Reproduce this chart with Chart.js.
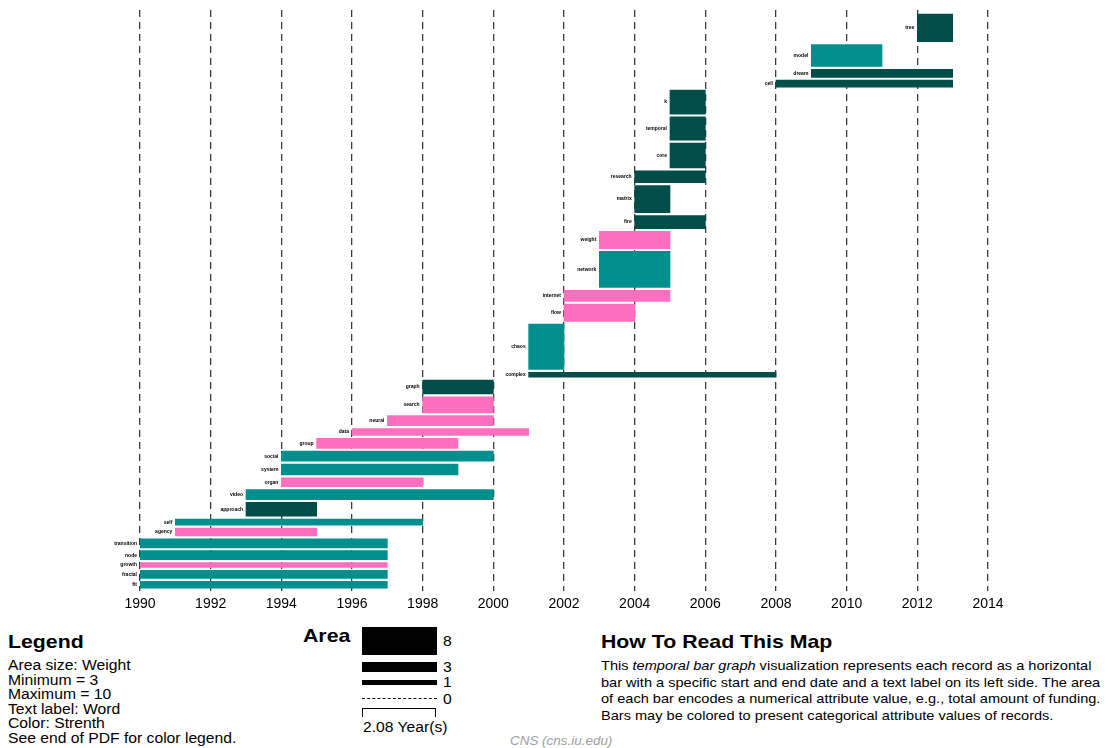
<!DOCTYPE html>
<html>
<head>
<meta charset="utf-8">
<script src="https://cdn.jsdelivr.net/npm/chart.js@4.4.0/dist/chart.umd.min.js"></script>
<style>
  body { margin: 0; background: #fff; font-family: Arial, "Liberation Sans", sans-serif; }
  #wrap { position: relative; width: 1108px; height: 748px; overflow: hidden; }
  #myChart { position: absolute; left: 0; top: 0; }
  .t { position: absolute; white-space: nowrap; transform: scaleX(1.12); transform-origin: 0 0; color: #000; }
  .h { font-weight: bold; font-size: 19px; line-height: 22px; }
  .box { position: absolute; background: #000; left: 362px; width: 75px; }
</style>
</head>
<body>
<div id="wrap">
  <canvas id="myChart" width="1108" height="623"></canvas>

  <div class="t h" style="left:8px;top:631px">Legend</div>
  <div class="t" style="left:8px;top:658px;font-size:14px;line-height:14.6px">
    Area size: Weight<br>Minimum = 3<br>Maximum = 10<br>Text label: Word<br>Color: Strenth<br>See end of PDF for color legend.
  </div>

  <div class="t h" style="left:303px;top:625px">Area</div>
  <div class="box" style="top:627px;height:28px"></div>
  <div class="box" style="top:662px;height:10px"></div>
  <div class="box" style="top:680px;height:5px"></div>
  <div style="position:absolute;left:362px;top:698px;width:75px;border-top:1.5px dashed #000"></div>
  <div style="position:absolute;left:362px;top:708px;width:72px;height:8px;border:1.5px solid #000;border-bottom:none"></div>
  <div class="t" style="left:443px;top:633px;font-size:14px;line-height:16px">8</div>
  <div class="t" style="left:443px;top:659px;font-size:14px;line-height:16px">3</div>
  <div class="t" style="left:443px;top:674px;font-size:14px;line-height:16px">1</div>
  <div class="t" style="left:443px;top:691px;font-size:14px;line-height:16px">0</div>
  <div class="t" style="left:363px;top:719px;font-size:14px;line-height:16px">2.08 Year(s)</div>

  <div class="t h" style="left:601px;top:631px">How To Read This Map</div>
  <div class="t" style="left:601px;top:658px;font-size:13px;line-height:16.5px">
    This <i>temporal bar graph</i> visualization represents each record as a horizontal<br>
    bar with a specific start and end date and a text label on its left side. The area<br>
    of each bar encodes a numerical attribute value, e.g., total amount of funding.<br>
    Bars may be colored to present categorical attribute values of records.
  </div>

  <div class="t" style="left:510px;top:734px;font-size:12px;line-height:14px;font-style:italic;color:#a0a0a0">CNS (cns.iu.edu)</div>
</div>

<script>
// records, listed from the top of the graph to the bottom
const words = ['tree', 'model', 'dream', 'cell', 'k', 'temporal', 'core', 'research', 'matrix', 'fire',
  'weight', 'network', 'internet', 'flow', 'chaos', 'complex', 'graph', 'search', 'neural', 'data',
  'group', 'social', 'system', 'organ', 'video', 'approach', 'self', 'agency', 'transition', 'node',
  'growth', 'fractal', 'fit']
const startYear = [2012, 2009, 2009, 2008, 2005, 2005, 2005, 2004, 2004, 2004,
  2003, 2003, 2002, 2002, 2001, 2001, 1998, 1998, 1997, 1996,
  1995, 1994, 1994, 1994, 1993, 1993, 1991, 1991, 1990, 1990,
  1990, 1990, 1990]
const endYear = [2013, 2011, 2013, 2013, 2006, 2006, 2006, 2006, 2005, 2006,
  2005, 2005, 2005, 2004, 2002, 2008, 2000, 2000, 2000, 2001,
  1999, 2000, 1999, 1998, 2000, 1995, 1998, 1995, 1997, 1997,
  1997, 1997, 1997]
const weight = [3.8, 6.0, 4.4, 4.8, 3.3, 3.2, 3.4, 3.3, 3.7, 3.6,
  4.7, 9.9, 4.5, 4.7, 6.2, 4.8, 3.8, 4.4, 4.1, 4.8,
  5.5, 8.2, 7.5, 4.9, 9.6, 3.8, 5.8, 4.4, 8.6, 8.6,
  4.8, 7.7, 6.7]
// 1 = weak, 2 = medium, 3 = strong
const strength = [3, 2, 3, 3, 3, 3, 3, 3, 3, 3,
  1, 2, 1, 1, 2, 3, 3, 1, 1, 1,
  1, 2, 2, 1, 2, 3, 2, 1, 2, 2,
  1, 2, 2]
const yearTicks = [1990, 1992, 1994, 1996, 1998, 2000, 2002, 2004, 2006, 2008, 2010, 2012, 2014]

const strengthColors = { 1: '#ff6fbf', 2: '#008f8c', 3: '#004d4a' }
const AREA_K = 7.3   // height units per (weight / year)
const GAP = 2.85

// bar height encodes weight / duration, bars are stacked top to bottom
const heights = words.map((w, i) => weight[i] / (endYear[i] - startYear[i]) * AREA_K)
const centers = []
let cum = 0
heights.forEach(h => { centers.push(cum + h / 2); cum += h + GAP })
const totalHeight = cum - GAP

const wordLabels = {
  id: 'wordLabels',
  afterDatasetsDraw(chart) {
    const ctx = chart.ctx
    ctx.save()
    ctx.font = 'bold 5px Arial'
    ctx.fillStyle = '#000'
    ctx.textAlign = 'right'
    ctx.textBaseline = 'middle'
    chart.data.datasets.forEach((ds, i) => {
      const el = chart.getDatasetMeta(i).data[0]
      ctx.fillText(ds.label, Math.min(el.x, el.base) - 3, el.y)
    })
    ctx.restore()
  }
}

const ctx = document.getElementById('myChart').getContext('2d')
const myChart = new Chart(ctx, {
  type: 'bar',
  data: {
    // one dataset per record so each bar can get its own thickness;
    // a shared stack id keeps them from being offset side by side
    datasets: words.map((w, i) => ({
      label: w,
      data: [{ x: [startYear[i], endYear[i]], y: centers[i] }],
      backgroundColor: strengthColors[strength[i]],
      borderWidth: 0,
      stack: 'all',
      barThickness: heights[i]
    }))
  },
  options: {
    indexAxis: 'y',
    responsive: false,
    animation: false,
    layout: { padding: { left: 140, right: 120, top: 10, bottom: 5 } },
    plugins: { legend: { display: false }, tooltip: { enabled: false } },
    scales: {
      x: {
        type: 'linear',
        position: 'bottom',
        stacked: false,
        min: 1990,
        max: 2014,
        afterBuildTicks: s => { s.ticks = yearTicks.map(v => ({ value: v })) },
        ticks: {
          autoSkip: false,
          maxRotation: 0,
          padding: 5,
          color: '#000',
          font: { family: 'Arial', size: 14 },
          callback: v => String(v)
        },
        grid: { color: '#3a3a3a', lineWidth: 1.3, drawTicks: false },
        border: { display: false, dash: [7, 5] }
      },
      y: {
        type: 'linear',
        display: false,
        reverse: true,
        offset: false,
        min: -4,
        max: totalHeight + 3
      }
    }
  },
  plugins: [wordLabels]
})

// convert height units to pixels now that the scale is laid out
const ys = myChart.scales.y
const ppu = Math.abs(ys.getPixelForValue(1) - ys.getPixelForValue(0))
myChart.data.datasets.forEach((ds, i) => { ds.barThickness = heights[i] * ppu })
myChart.update('none')
</script>
</body>
</html>
